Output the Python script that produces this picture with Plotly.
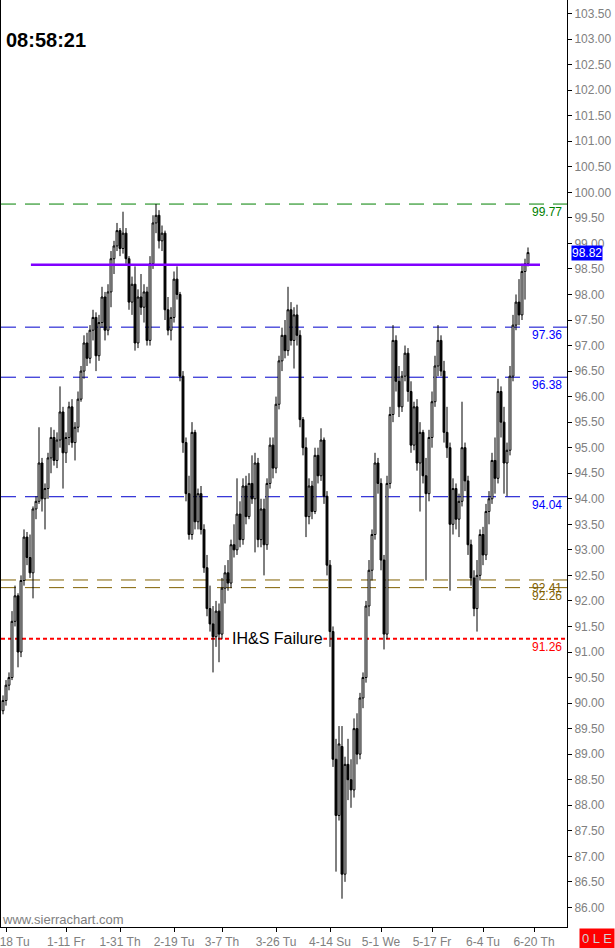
import plotly.graph_objects as go

# ---------------- data ----------------
open_ = [
    89.85, 90.05, 90.35, 90.50, 91.60, 92.10, 91.00, 92.40, 93.25, 92.85,
    92.55, 93.80, 93.95, 94.70, 94.00, 94.20, 94.80, 95.20, 94.75, 95.15,
    95.70, 94.90, 95.20, 95.80, 95.10, 95.40, 95.95, 96.50, 97.05, 96.75,
    97.30, 97.55, 96.80, 97.45, 97.95, 97.30, 98.05, 98.70, 98.95, 99.25,
    98.90, 99.20, 98.70, 97.85, 98.20, 97.05, 97.95, 97.75, 98.05, 97.10,
    98.60, 99.40, 99.55, 99.05, 99.20, 97.70, 97.30, 97.55, 98.30, 98.00,
    96.40, 95.10, 94.10, 93.30, 95.30, 93.55, 94.10, 93.40, 92.65, 91.85,
    91.55, 91.30, 91.80, 91.35, 92.25, 92.55, 92.35, 93.10, 93.00, 93.70,
    93.20, 94.25, 93.65, 94.30, 94.00, 94.70, 93.20, 93.80, 93.10, 94.30,
    95.05, 94.60, 95.85, 96.70, 97.20, 96.90, 97.70, 97.10, 97.60, 97.20,
    95.55, 95.00, 93.65, 94.25, 93.75, 94.85, 94.45, 95.15, 94.05, 92.70,
    91.40, 88.90, 87.80, 89.15, 86.65, 88.80, 88.50, 88.30, 89.50, 89.00,
    90.10, 90.50, 91.90, 92.60, 93.30, 94.70, 94.30, 92.80, 91.35, 94.30,
    95.65, 97.10, 96.30, 95.80, 96.40, 96.85, 96.10, 95.05, 95.80, 94.70,
    95.30, 94.45, 94.10, 95.20, 95.90, 96.60, 97.10, 96.50, 95.30, 95.00,
    93.50, 94.20, 93.60, 93.95, 95.00, 94.35, 93.10, 92.45, 91.85, 92.50,
    93.30, 92.90, 93.75, 94.00, 94.75, 94.40, 96.10, 95.50, 94.70, 94.95,
    96.40, 97.40, 97.85, 97.60, 98.45, 98.60,
]
high = [
    90.15, 90.45, 90.60, 91.80, 92.30, 92.15, 92.50, 93.40, 93.35, 93.30,
    93.85, 94.05, 95.40, 94.80, 94.30, 94.90, 95.40, 95.35, 95.30, 96.20,
    95.80, 95.30, 95.90, 95.95, 95.50, 96.10, 96.60, 97.20, 97.25, 97.40,
    97.70, 97.65, 97.60, 98.15, 98.05, 98.20, 98.85, 99.05, 99.40, 99.30,
    99.62, 99.30, 98.75, 98.35, 98.55, 98.10, 98.40, 98.20, 98.15, 98.75,
    99.55, 99.77, 99.65, 99.35, 99.25, 97.95, 97.75, 98.45, 98.55, 98.05,
    96.50, 95.20, 94.45, 95.50, 95.35, 94.20, 94.25, 93.50, 92.90, 92.30,
    91.90, 92.00, 91.95, 92.45, 92.70, 92.80, 93.20, 93.50, 94.40, 93.95,
    94.40, 94.45, 94.50, 94.85, 94.90, 94.80, 94.00, 94.00, 94.40, 95.20,
    95.20, 96.00, 96.80, 97.35, 97.50, 98.15, 97.85, 97.75, 97.80, 97.30,
    95.60, 95.20, 94.40, 94.35, 95.00, 95.00, 95.38, 95.20, 94.15, 92.80,
    91.50, 89.30, 89.55, 89.55, 88.95, 89.30, 88.90, 89.70, 89.80, 90.20,
    90.60, 92.00, 92.80, 93.40, 94.90, 94.80, 94.40, 92.90, 94.45, 95.80,
    97.40, 97.20, 96.60, 96.50, 97.00, 96.95, 96.30, 95.90, 95.95, 95.50,
    95.35, 94.80, 95.35, 96.10, 96.80, 97.40, 97.20, 96.70, 95.80, 95.10,
    94.40, 94.30, 94.10, 95.90, 95.10, 94.45, 93.20, 92.60, 92.80, 93.40,
    93.45, 93.90, 94.15, 94.90, 95.20, 96.35, 96.20, 95.80, 95.10, 96.60,
    97.60, 98.00, 98.30, 98.60, 98.70, 98.92,
]
low = [
    89.78, 89.95, 90.25, 90.45, 91.50, 90.70, 90.90, 92.30, 92.70, 92.45,
    92.05, 93.60, 93.90, 93.75, 93.40, 94.00, 94.50, 94.65, 94.60, 95.00,
    94.20, 94.70, 95.05, 95.00, 94.75, 95.30, 95.90, 96.35, 96.60, 96.65,
    97.10, 96.50, 96.70, 97.35, 97.10, 97.20, 97.75, 98.40, 98.85, 98.75,
    98.80, 98.60, 97.70, 97.60, 96.90, 96.95, 97.60, 97.45, 97.00, 97.00,
    98.50, 99.20, 98.90, 98.85, 97.50, 97.20, 97.10, 97.45, 97.90, 96.30,
    94.90, 93.95, 93.20, 93.20, 93.40, 93.40, 93.30, 92.55, 91.70, 91.40,
    90.60, 91.10, 90.80, 91.25, 91.95, 92.20, 92.25, 92.85, 92.90, 93.05,
    93.10, 93.50, 93.60, 93.90, 92.95, 93.05, 93.05, 92.50, 93.00, 94.20,
    94.40, 94.50, 95.75, 96.50, 96.75, 96.80, 97.00, 96.55, 97.00, 95.40,
    94.85, 93.25, 93.50, 93.60, 93.70, 94.30, 94.35, 93.90, 92.50, 91.10,
    88.75, 86.70, 87.70, 86.17, 86.50, 88.10, 87.95, 88.15, 88.80, 88.90,
    89.90, 90.40, 91.70, 92.40, 93.20, 94.10, 92.60, 91.05, 91.25, 94.20,
    95.50, 96.10, 95.60, 95.70, 96.30, 95.90, 94.90, 94.95, 94.55, 93.75,
    94.30, 92.40, 93.95, 95.00, 95.80, 96.40, 96.40, 95.10, 94.80, 92.20,
    93.30, 93.40, 93.25, 93.85, 94.15, 92.90, 92.30, 91.70, 91.40, 92.40,
    92.70, 92.80, 93.50, 93.90, 94.10, 94.30, 95.20, 94.10, 94.05, 94.85,
    96.30, 97.30, 97.40, 97.50, 97.90, 98.55,
]
close = [
    90.05, 90.35, 90.50, 91.60, 92.10, 91.00, 92.40, 93.25, 92.85, 92.55,
    93.80, 93.95, 94.70, 94.00, 94.20, 94.80, 95.20, 94.75, 95.15, 95.70,
    94.90, 95.20, 95.80, 95.10, 95.40, 95.95, 96.50, 97.05, 96.75, 97.30,
    97.55, 96.80, 97.45, 97.95, 97.30, 98.05, 98.70, 98.95, 99.25, 98.90,
    99.20, 98.70, 97.85, 98.20, 97.05, 97.95, 97.75, 98.05, 97.10, 98.60,
    99.40, 99.55, 99.05, 99.20, 97.70, 97.30, 97.55, 98.30, 98.00, 96.40,
    95.10, 94.10, 93.30, 95.30, 93.55, 94.10, 93.40, 92.65, 91.85, 91.55,
    91.30, 91.80, 91.35, 92.25, 92.55, 92.35, 93.10, 93.00, 93.70, 93.20,
    94.25, 93.65, 94.30, 94.00, 94.70, 93.20, 93.80, 93.10, 94.30, 95.05,
    94.60, 95.85, 96.70, 97.20, 96.90, 97.70, 97.10, 97.60, 97.20, 95.55,
    95.00, 93.65, 94.25, 93.75, 94.85, 94.45, 95.15, 94.05, 92.70, 91.40,
    88.90, 87.80, 89.20, 86.65, 88.80, 88.50, 88.30, 89.50, 89.00, 90.10,
    90.50, 91.90, 92.60, 93.30, 94.70, 94.30, 92.80, 91.35, 94.30, 95.65,
    97.10, 96.30, 95.80, 96.40, 96.85, 96.10, 95.05, 95.80, 94.70, 95.30,
    94.45, 94.10, 95.20, 95.90, 96.60, 97.10, 96.50, 95.30, 95.00, 93.50,
    94.20, 93.60, 93.95, 95.00, 94.35, 93.10, 92.45, 91.85, 92.50, 93.30,
    92.90, 93.75, 94.00, 94.75, 94.40, 96.10, 95.50, 94.70, 94.95, 96.40,
    97.40, 97.85, 97.60, 98.45, 98.60, 98.82,
]
bar_index = list(range(len(close)))

tick_bars = [1, 21, 39, 57, 73, 91, 109, 126, 143, 160, 177]
tick_labels = ["12-18 Tu", "1-11 Fr", "1-31 Th", "2-19 Tu", "3-7 Th", "3-26 Tu",
               "4-14 Su", "5-1 We", "5-17 Fr", "6-4 Tu", "6-20 Th"]

level_values = [99.77, 97.36, 96.38, 94.04, 92.41, 92.26, 91.26]
level_labels = ["99.77", "97.36", "96.38", "94.04", "92.41", "92.26", "91.26"]
neckline = 98.58
last_price = close[-1]
clock_text = "08:58:21"
note_text = "IH&S Failure"

# ---------------- layout geometry ----------------
W, H = 615, 948
ML, MR, MT, MB = 1, 48, 0, 21
PW, PH = W - ML - MR, H - MT - MB


def px_x(px):
    return (px - ML) / PW


def px_y(py):
    return 1 - (py - MT) / PH


FONT = "Liberation Sans, Arial, sans-serif"
GRAY = "#808080"
level_styles = [
    ("#008000", "15px,9px", 1, "#008000"),
    ("#0000CC", "15px,9px", 1, "#0000FF"),
    ("#0000CC", "15px,9px", 1, "#0000FF"),
    ("#0000CC", "15px,9px", 1, "#0000FF"),
    ("#806000", "15px,9px", 1, "#806000"),
    ("#806000", "15px,9px", 1, "#806000"),
    ("#FF0000", "4px,3px", 2, "#FF0000"),
]

fig = go.Figure()
fig.add_trace(go.Candlestick(
    x=bar_index, open=open_, high=high, low=low, close=close,
    increasing=dict(fillcolor="#FFFFFF", line=dict(color="#000000", width=1)),
    decreasing=dict(fillcolor="#000000", line=dict(color="#000000", width=1)),
    whiskerwidth=0, showlegend=False, hoverinfo="skip",
))

shapes = []
annotations = []
for val, lab, (lc, dash, lw, tc) in zip(level_values, level_labels, level_styles):
    shapes.append(dict(type="line", xref="paper", yref="y", x0=0, x1=1, y0=val, y1=val,
                       line=dict(color=lc, width=lw, dash=dash), layer="below"))
    annotations.append(dict(xref="paper", yref="y", x=px_x(564), y=val, yshift=-8,
                            text=lab, showarrow=False, xanchor="right", yanchor="middle",
                            font=dict(family=FONT, size=12, color=tc)))

shapes.append(dict(type="line", xref="x", yref="y", x0=9.3, x1=179, y0=neckline, y1=neckline,
                   line=dict(color="#8000FF", width=2.5), layer="above"))

annotations += [
    dict(xref="paper", yref="paper", x=px_x(4), y=px_y(40), text="<b>%s</b>" % clock_text,
         showarrow=False, xanchor="left", yanchor="middle",
         font=dict(family=FONT, size=20, color="#000000")),
    dict(xref="x", yref="y", x=91.5, y=level_values[-1], text=note_text, showarrow=False,
         xanchor="center", yanchor="middle", bgcolor="#FFFFFF", borderpad=0,
         font=dict(family=FONT, size=16, color="#000000")),
    dict(xref="paper", yref="paper", x=px_x(0), y=px_y(919.5), text="www.sierrachart.com",
         showarrow=False, xanchor="left", yanchor="middle",
         font=dict(family=FONT, size=13, color=GRAY)),
    dict(xref="paper", yref="y", x=px_x(571), y=last_price, text="%.2f" % last_price,
         showarrow=False, xanchor="left", yanchor="middle", bgcolor="#0000FF", borderpad=0,
         font=dict(family=FONT, size=12, color="#FFFFFF")),
    dict(xref="paper", yref="paper", x=px_x(579), y=px_y(938), text="0 L E",
         showarrow=False, xanchor="left", yanchor="middle", bgcolor="#FF0000", borderpad=2,
         font=dict(family=FONT, size=13, color="#D0D0D0")),
]

fig.update_layout(
    template="none",
    width=W, height=H,
    margin=dict(l=ML, r=MR, t=MT, b=MB, pad=0, autoexpand=False),
    paper_bgcolor="#FFFFFF", plot_bgcolor="#FFFFFF",
    showlegend=False,
    shapes=shapes, annotations=annotations,
    boxgap=0.1,
    font=dict(family=FONT, size=12, color=GRAY),
    xaxis=dict(
        range=[-0.667, 188], rangeslider=dict(visible=False),
        automargin=False,
        showgrid=False, zeroline=False,
        showline=True, linecolor="#000000", linewidth=1, mirror=False,
        tickmode="array", tickvals=tick_bars, ticktext=tick_labels,
        ticks="outside", ticklen=4, tickcolor="#000000",
        tickfont=dict(family=FONT, size=12, color=GRAY),
        ticklabeloverflow="allow",
    ),
    yaxis=dict(
        range=[85.616, 103.765], side="right",
        automargin=False,
        showgrid=False, zeroline=False,
        showline=True, linecolor="#000000", linewidth=1, mirror=True,
        tick0=86, dtick=0.5, tickformat=".2f",
        ticks="outside", ticklen=4, tickcolor="#000000",
        tickfont=dict(family=FONT, size=12, color=GRAY),
        ticklabeloverflow="allow",
    ),
)

fig.write_html(
    "out.html",
    config={"displayModeBar": False},
    post_script="document.body.style.margin='0';document.body.style.overflow='hidden';",
)
